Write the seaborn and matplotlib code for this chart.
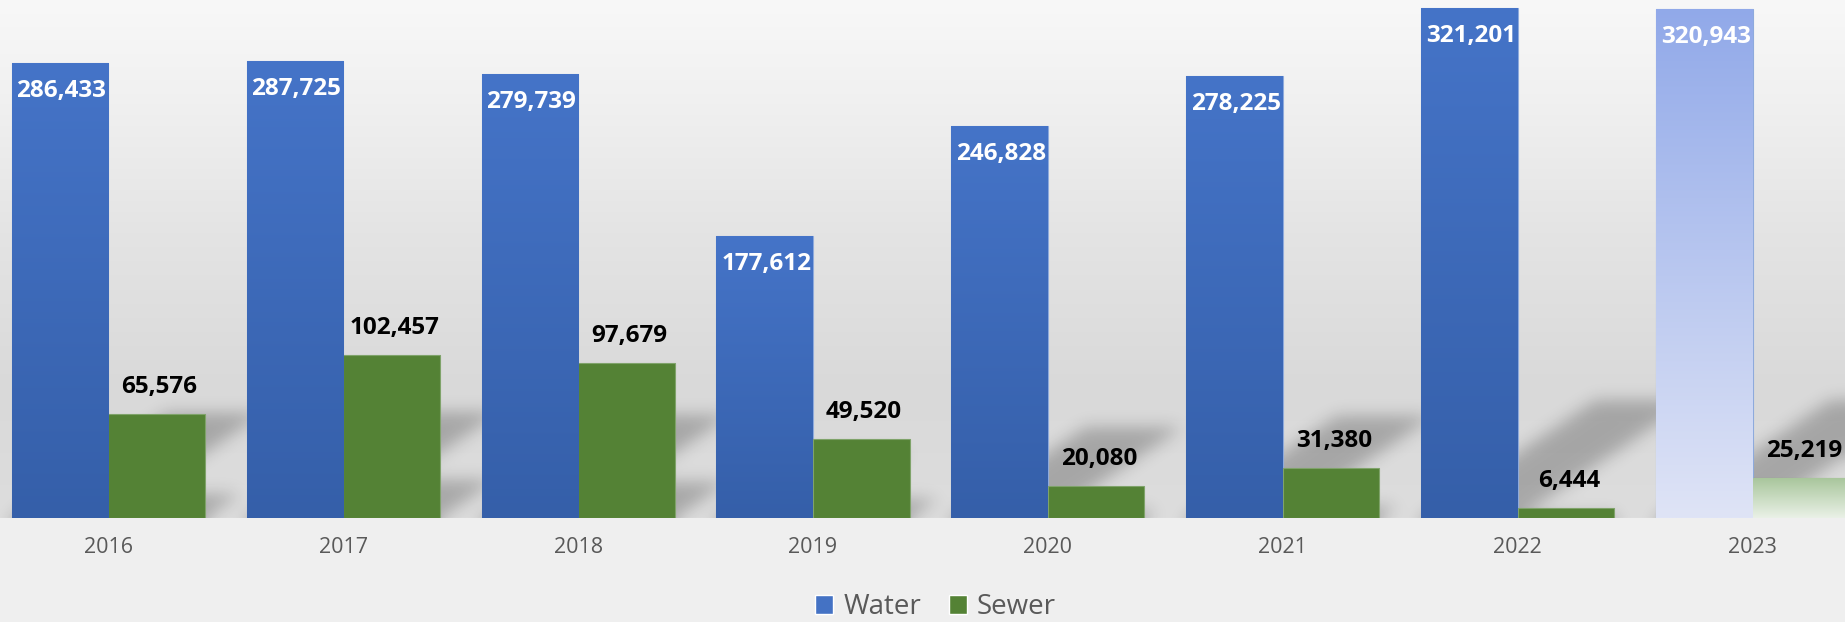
import numpy as np
import pandas as pd
import matplotlib
matplotlib.use("Agg")
import matplotlib.pyplot as plt
import seaborn as sns
from matplotlib.colors import to_rgb
from matplotlib.patches import Patch

# ---- data -------------------------------------------------------------
years = ["2016", "2017", "2018", "2019", "2020", "2021", "2022", "2023"]
water = [286433, 287725, 279739, 177612, 246828, 278225, 321201, 320943]
sewer = [65576, 102457, 97679, 49520, 20080, 31380, 6444, 25219]
series = ["Water", "Sewer"]

# ---- style ------------------------------------------------------------
sns.set_theme(style="white")
plt.rcParams["font.family"] = ["Open Sans", "DejaVu Sans"]

WATER_C = "#4472C4"
SEWER_C = "#548235"

FIG_W, FIG_H = 1845, 622
BASE_PX = 518  # baseline of the plot area, px from top

fig = plt.figure(figsize=(FIG_W / 100, FIG_H / 100), dpi=100)
fig.patch.set_facecolor("#efefef")
ax = fig.add_axes([0, (FIG_H - BASE_PX) / FIG_H, 1, BASE_PX / FIG_H])
ax.set_facecolor("none")

df = pd.DataFrame({
    "year": years * 2,
    "series": ["Water"] * len(years) + ["Sewer"] * len(years),
    "value": water + sewer,
})
sns.barplot(data=df, x="year", y="value", hue="series", hue_order=series,
            palette={"Water": WATER_C, "Sewer": SEWER_C}, width=0.822,
            saturation=1, errorbar=None, legend=False, ax=ax)

X_LEFT, X_RIGHT = -0.461, 7.393
Y_TOP = 326400
ax.set_xlim(X_LEFT, X_RIGHT)
ax.set_ylim(0, Y_TOP)

# ---- plot-area background: soft vertical gradient ----------------------
pos = np.linspace(0, 1, BASE_PX)
stops_p = [0.0, 0.18, 0.45, 0.75, 1.0]
stops_v = [0xf8, 0xf1, 0xe4, 0xd9, 0xdd]
g = np.interp(pos, stops_p, stops_v) / 255.0
bg = np.repeat(g[:, None], 4, axis=1)
bg = np.dstack([bg, bg, bg])
ax.imshow(bg, extent=(X_LEFT, X_RIGHT, 0, Y_TOP), origin="upper",
          aspect="auto", zorder=-3, interpolation="bilinear")

water_bars = list(ax.containers[0])
sewer_bars = list(ax.containers[1])

# ---- perspective shadows cast up and to the right ----------------------
H, W = BASE_PX, FIG_W
mask = np.zeros((H, W))
cols = np.arange(W) + 0.5
for bar in water_bars + sewer_bars:
    x0 = (bar.get_x() - X_LEFT) / (X_RIGHT - X_LEFT) * W
    x1 = (bar.get_x() + bar.get_width() - X_LEFT) / (X_RIGHT - X_LEFT) * W
    hp = bar.get_height() / Y_TOP * H
    kh = 0.23 * hp
    for r in range(int(np.ceil(kh))):
        shift = 1.48 * (r + 0.5)
        mask[r] = np.maximum(mask[r], ((cols >= x0 + shift) & (cols <= x1 + shift)).astype(float))

def blur(a, sigma):
    rad = int(3 * sigma)
    k = np.exp(-0.5 * (np.arange(-rad, rad + 1) / sigma) ** 2)
    k /= k.sum()
    p = np.pad(a, ((0, 0), (rad, rad)), mode="edge")
    out = sum(k[i] * p[:, i:i + a.shape[1]] for i in range(len(k)))
    p = np.pad(out, ((rad, rad), (0, 0)), mode="edge")
    out = sum(k[i] * p[i:i + a.shape[0], :] for i in range(len(k)))
    return out

shadow = blur(mask, 8.0)
shadow_rgba = np.zeros((H, W, 4))
shadow_rgba[..., 3] = 0.24 * shadow
ax.imshow(shadow_rgba, extent=(X_LEFT, X_RIGHT, 0, Y_TOP), origin="lower",
          aspect="auto", zorder=-2, interpolation="bilinear")

# ---- gradient fills on the bars ----------------------------------------
def fill_gradient(bar, top, bottom):
    x, w, h = bar.get_x(), bar.get_width(), bar.get_height()
    t = np.linspace(0, 1, 256)[:, None]
    c = (1 - t) * np.array(to_rgb(top)) + t * np.array(to_rgb(bottom))
    im = ax.imshow(c[:, None, :], extent=(x, x + w, 0, h), origin="upper",
                   aspect="auto", zorder=bar.get_zorder() + 0.01,
                   interpolation="bilinear")
    im.set_clip_path(bar)

last = len(years) - 1
for i, bar in enumerate(water_bars):
    bar.set_edgecolor("#8eaadc")
    bar.set_linewidth(0.8)
    if i == last:
        fill_gradient(bar, "#91a9e9", "#dfe4f6")
    else:
        fill_gradient(bar, "#4574c8", "#355fa9")
for i, bar in enumerate(sewer_bars):
    bar.set_edgecolor("#7fa36a")
    bar.set_linewidth(0.8)
    if i == last:
        fill_gradient(bar, "#a7c59a", "#eaf1e7")

ax.set_xlim(X_LEFT, X_RIGHT)
ax.set_ylim(0, Y_TOP)

# ---- value labels -------------------------------------------------------
PX = 0.72  # points per pixel at 100 dpi
for bar, v in zip(water_bars, water):
    ax.annotate(f"{v:,}", (bar.get_x() + bar.get_width() / 2, v),
                xytext=(1, -28 * PX), textcoords="offset points",
                ha="center", va="center", color="white",
                fontsize=17.5, fontweight="bold", zorder=5)
for bar, v in zip(sewer_bars, sewer):
    ax.annotate(f"{v:,}", (bar.get_x() + bar.get_width() / 2, v),
                xytext=(2, 27 * PX), textcoords="offset points",
                ha="center", va="center", color="black",
                fontsize=17.5, fontweight="bold", zorder=5, annotation_clip=False)

# ---- axes cosmetics ----------------------------------------------------
for s in ax.spines.values():
    s.set_visible(False)
ax.set_yticks([])
ax.set_xlabel("")
ax.set_ylabel("")
ax.tick_params(axis="x", length=0, pad=14, labelsize=15.5, labelcolor="#595959")

fig.legend(handles=[Patch(facecolor=WATER_C), Patch(facecolor=SEWER_C)],
           labels=series, loc="center", bbox_to_anchor=(0.507, 1 - 607 / FIG_H),
           ncol=2, frameon=False, fontsize=20, handlelength=0.65,
           handleheight=0.65, handletextpad=0.35, columnspacing=1.0,
           labelcolor="#595959")

fig.savefig("out.png", dpi=100, facecolor=fig.get_facecolor())
